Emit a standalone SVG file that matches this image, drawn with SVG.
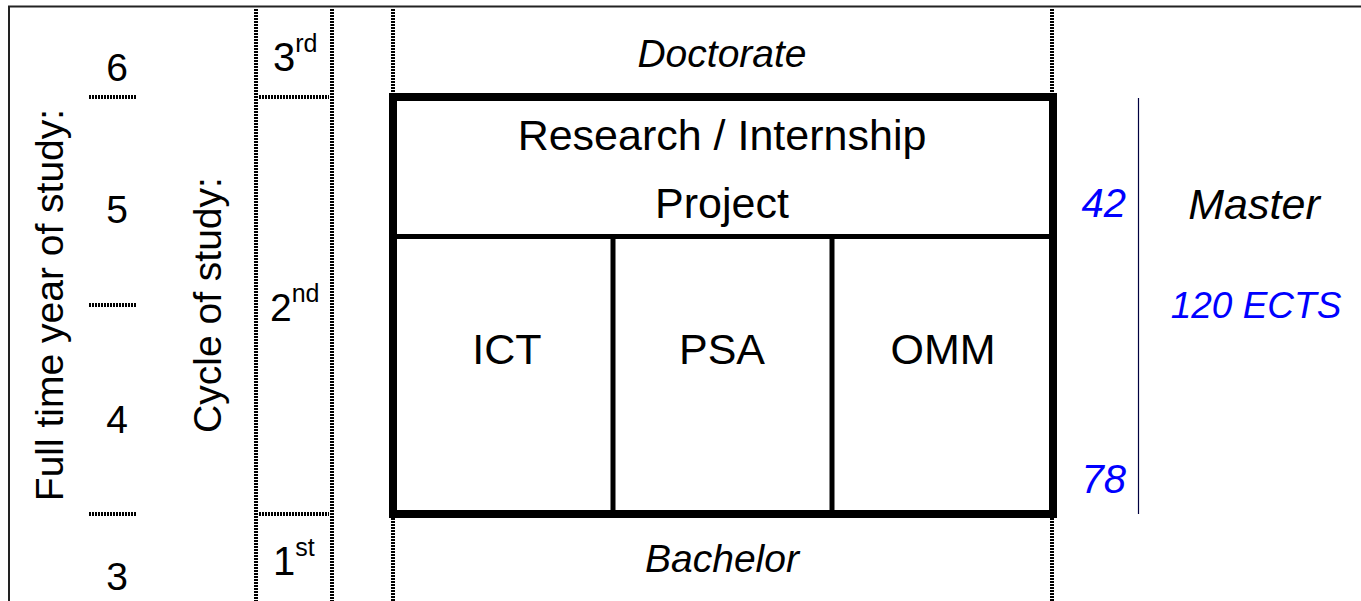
<svg xmlns="http://www.w3.org/2000/svg" width="1361" height="601" viewBox="0 0 1361 601">
<style>
text{font-family:"Liberation Sans",Arial,sans-serif;fill:#000}
.dot{stroke:#000;stroke-width:4;stroke-dasharray:2 1;fill:none}
.it{font-style:italic}
.blue{fill:#0000ff}
.n{font-size:39px;text-anchor:middle}
.big{font-size:43px;text-anchor:middle}
.sup{font-size:25px}
</style>
<rect width="1361" height="601" fill="#fff"/>
<g id="frame"><path d="M9 601V6.5H1361" fill="none" stroke="#222" stroke-width="2"/></g>
<g id="connectors">
<line class="dot" x1="256" y1="9" x2="256" y2="601"/>
<line class="dot" x1="332" y1="9" x2="332" y2="601"/>
<line class="dot" x1="393" y1="9" x2="393" y2="94"/>
<line class="dot" x1="393" y1="518" x2="393" y2="601"/>
<line class="dot" x1="1052" y1="9" x2="1052" y2="94"/>
<line class="dot" x1="1052" y1="518" x2="1052" y2="601"/>
<line class="dot" x1="89" y1="97" x2="136" y2="97"/>
<line class="dot" x1="89" y1="305" x2="136" y2="305"/>
<line class="dot" x1="89" y1="514" x2="136" y2="514"/>
<line class="dot" x1="259" y1="97" x2="329" y2="97"/>
<line class="dot" x1="259" y1="514" x2="329" y2="514"/>
<line x1="1138.5" y1="98" x2="1138.5" y2="514" stroke="#000040" stroke-width="1.2"/>
</g>
<g id="year-scale">
<text transform="translate(63,305) rotate(-90)" class="n" font-size="38">Full time year of study:</text>
<text x="117" y="81" class="n">6</text>
<text x="117" y="223" class="n">5</text>
<text x="117" y="433" class="n">4</text>
<text x="117" y="590" class="n">3</text>
</g>
<g id="cycle-scale">
<text transform="translate(221,305) rotate(-90)" class="n">Cycle of study:</text>
<text x="273" y="70.5" font-size="40">3<tspan class="sup" y="52">rd</tspan></text>
<text x="270" y="320.5" font-size="39">2<tspan class="sup" y="301.5">nd</tspan></text>
<text x="273" y="575" font-size="40">1<tspan class="sup" y="556">st</tspan></text>
</g>
<g id="doctorate"><text x="722" y="67" class="n it">Doctorate</text></g>
<g id="bachelor"><text x="722" y="572" class="n it">Bachelor</text></g>
<g id="master-box">
<rect x="393" y="97" width="660" height="417" fill="none" stroke="#000" stroke-width="8"/>
<line x1="393" y1="236.5" x2="1053" y2="236.5" stroke="#000" stroke-width="5"/>
<line x1="613" y1="236" x2="613" y2="514" stroke="#000" stroke-width="5"/>
<line x1="832" y1="236" x2="832" y2="514" stroke="#000" stroke-width="5"/>
</g>
<g id="research"><text x="722" y="150" class="big">Research / Internship</text><text x="722" y="218" class="big">Project</text></g>
<g id="ict"><text x="507" y="364" class="big">ICT</text></g>
<g id="psa"><text x="722" y="364" class="big">PSA</text></g>
<g id="omm"><text x="943" y="364" class="big">OMM</text></g>
<g id="ects">
<text x="1126" y="217" font-size="40" text-anchor="end" class="it blue">42</text>
<text x="1126" y="493" font-size="40" text-anchor="end" class="it blue">78</text>
</g>
<g id="master">
<text x="1254" y="219" font-size="43" text-anchor="middle" class="it">Master</text>
<text x="1256" y="318" font-size="37" text-anchor="middle" class="it blue">120 ECTS</text>
</g>
</svg>
